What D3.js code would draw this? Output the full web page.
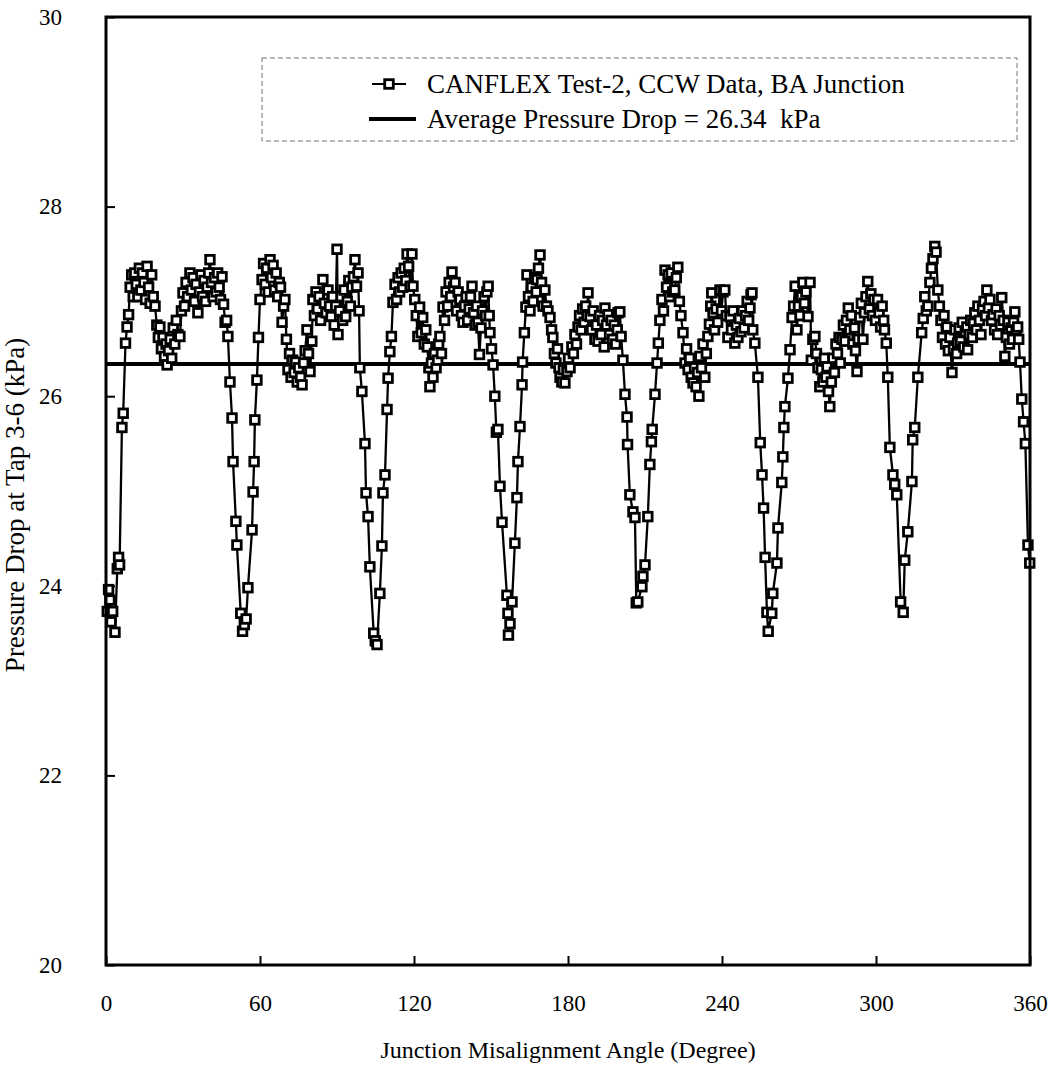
<!DOCTYPE html>
<html>
<head>
<meta charset="utf-8">
<script src="https://cdn.jsdelivr.net/npm/d3@7"></script>
<style>
  body { margin: 0; background: #fff; }
  text { font-family: "Liberation Serif", "Times New Roman", serif; fill: #000; }
</style>
</head>
<body>
<svg id="chart" width="1052" height="1076"></svg>
<script>
// values
var angles = [
  0.5, 1.0, 1.5, 2.0, 2.6, 3.5, 4.4, 4.9, 5.3, 6.2, 6.7, 7.6, 8.2, 8.8, 9.4, 10.0, 10.6, 11.2, 11.8, 12.4,
  13.0, 13.6, 14.2, 14.8, 15.4, 16.0, 16.6, 17.2, 17.8, 18.4, 19.1, 19.8, 20.4, 21.0, 21.6, 22.2, 22.8, 23.4, 23.8, 24.4,
  25.0, 25.6, 26.2, 26.8, 27.4, 28.0, 28.8, 29.4, 30.0, 30.6, 31.2, 31.8, 32.7, 33.3, 33.9, 34.5, 35.1, 35.8, 36.4, 37.0,
  37.6, 38.2, 38.8, 39.4, 40.0, 40.5, 41.1, 41.7, 42.3, 42.9, 43.5, 44.1, 44.6, 45.2, 45.8, 46.4, 47.0, 47.5, 48.3, 49.1,
  49.5, 50.6, 51.0, 52.5, 53.2, 53.9, 54.6, 55.3, 56.9, 57.3, 57.7, 58.0, 58.8, 59.4, 60.0, 60.8, 61.4, 62.0, 62.6, 63.2,
  63.9, 64.5, 65.1, 65.7, 66.3, 66.9, 67.5, 68.0, 68.6, 69.2, 69.7, 70.3, 70.9, 71.5, 72.1, 72.7, 73.3, 73.9, 74.5, 75.1,
  75.8, 76.4, 77.0, 77.6, 78.3, 78.9, 79.5, 80.2, 80.6, 81.2, 81.8, 82.4, 83.0, 83.6, 84.5, 85.1, 85.8, 86.5, 87.1, 87.7,
  88.3, 88.9, 89.5, 90.0, 90.4, 91.0, 91.6, 92.2, 92.8, 93.4, 94.0, 94.6, 95.2, 95.8, 96.4, 97.0, 97.6, 98.2, 98.6, 98.9,
  99.7, 100.9, 101.3, 102.1, 102.8, 104.3, 104.9, 105.6, 106.7, 107.5, 107.9, 108.7, 109.5, 109.9, 110.6, 111.2, 111.8, 112.6, 113.2, 113.8,
  114.4, 115.0, 115.6, 116.2, 116.8, 117.3, 117.9, 118.5, 119.2, 119.6, 120.3, 120.9, 121.5, 122.2, 122.8, 123.4, 124.0, 124.6, 125.2, 125.8,
  126.2, 126.8, 127.4, 128.0, 128.6, 129.2, 129.6, 130.1, 130.7, 131.3, 131.9, 132.5, 133.1, 133.7, 134.3, 134.8, 135.4, 136.0, 136.6, 137.2,
  137.9, 138.5, 139.1, 139.7, 140.3, 140.9, 141.5, 142.0, 142.6, 143.2, 143.8, 144.4, 144.9, 145.5, 146.1, 146.7, 147.3, 147.9, 148.4, 148.9,
  149.3, 149.6, 150.2, 150.8, 151.5, 152.1, 152.7, 153.5, 154.3, 156.2, 156.6, 156.8, 157.4, 158.2, 159.3, 160.1, 160.5, 161.3, 162.1, 162.3,
  163.0, 163.6, 164.0, 164.6, 165.2, 165.8, 166.4, 167.0, 167.6, 167.9, 168.5, 169.1, 169.7, 170.3, 171.0, 171.6, 172.2, 173.0, 173.6, 174.1,
  174.7, 175.3, 175.9, 176.5, 176.9, 177.6, 178.2, 178.8, 179.6, 180.2, 180.8, 181.5, 182.1, 182.7, 183.3, 183.9, 184.5, 185.1, 185.7, 186.3,
  186.9, 187.4, 187.8, 188.6, 189.2, 189.8, 190.5, 191.1, 191.7, 192.3, 192.9, 193.5, 194.1, 194.4, 195.0, 195.6, 196.2, 196.8, 197.4, 198.0,
  198.6, 199.2, 199.5, 200.2, 200.7, 201.4, 202.2, 203.0, 203.2, 204.1, 205.3, 206.1, 206.6, 207.2, 208.8, 209.2, 210.0, 211.1, 211.9, 212.5,
  212.8, 213.9, 214.7, 215.2, 215.8, 216.6, 217.2, 217.8, 218.4, 219.0, 219.6, 220.2, 220.8, 221.6, 222.2, 222.8, 223.4, 224.0, 224.8, 225.6,
  226.2, 226.8, 227.4, 228.0, 228.7, 229.3, 229.9, 230.5, 231.0, 231.4, 232.0, 232.6, 233.3, 233.9, 234.5, 235.1, 235.6, 236.0, 236.5, 237.1,
  237.7, 238.3, 239.2, 239.8, 240.4, 241.1, 241.7, 242.3, 243.1, 243.7, 244.3, 245.0, 245.6, 246.2, 246.8, 247.4, 248.0, 248.6, 249.2, 249.8,
  250.4, 250.9, 251.3, 251.7, 252.0, 252.8, 254.0, 254.9, 255.6, 256.2, 256.8, 257.5, 258.0, 259.4, 259.8, 261.4, 261.8, 263.3, 263.7, 264.1,
  264.5, 265.7, 266.5, 267.3, 267.9, 268.5, 269.2, 269.8, 270.4, 271.0, 271.5, 272.1, 272.7, 273.5, 274.3, 274.8, 275.4, 276.2, 276.8, 277.4,
  278.1, 278.7, 279.3, 279.9, 280.5, 280.9, 281.5, 282.0, 282.6, 283.2, 283.8, 284.4, 285.0, 285.6, 286.1, 286.7, 287.3, 287.9, 288.5, 289.2,
  289.8, 290.4, 291.0, 291.6, 292.0, 292.6, 293.1, 293.7, 294.3, 294.9, 295.5, 296.1, 296.8, 297.4, 298.0, 298.6, 299.2, 299.8, 300.6, 301.2,
  301.8, 302.4, 303.0, 303.3, 304.0, 304.6, 305.4, 306.6, 307.3, 308.1, 309.6, 310.6, 311.2, 312.4, 314.0, 314.3, 315.1, 316.3, 317.8, 318.4,
  319.0, 319.6, 320.2, 321.0, 321.6, 322.2, 322.9, 323.4, 324.1, 324.7, 325.3, 325.9, 326.5, 327.1, 327.6, 328.2, 328.8, 329.6, 330.2, 330.8,
  331.4, 331.8, 332.4, 333.0, 333.6, 334.2, 334.8, 335.4, 335.7, 336.3, 336.9, 337.5, 338.0, 338.5, 339.1, 339.7, 340.3, 340.9, 341.5, 342.1,
  342.7, 343.2, 343.8, 344.4, 345.0, 345.6, 346.2, 346.8, 347.4, 348.0, 348.5, 349.0, 349.6, 350.2, 350.8, 351.4, 352.0, 352.6, 353.2, 353.6,
  354.1, 354.6, 355.2, 355.6, 356.1, 356.8, 357.5, 358.2, 359.2, 359.9
];
var pressures = [
  23.73, 23.96, 23.85, 23.62, 23.73, 23.51, 24.18, 24.30, 24.22, 25.67, 25.82, 26.56, 26.73, 26.86, 27.15, 27.28, 27.05, 27.30, 27.18, 27.05,
  27.35, 27.12, 27.30, 27.20, 27.02, 27.37, 27.15, 26.98, 27.28, 27.05, 26.95, 26.75, 26.62, 26.73, 26.50, 26.62, 26.42, 26.55, 26.33, 26.48,
  26.60, 26.40, 26.72, 26.55, 26.80, 26.65, 26.63, 26.90, 27.09, 26.95, 27.20, 27.05, 27.30, 27.12, 27.25, 27.00, 27.18, 26.88, 27.10, 27.28,
  27.05, 27.22, 27.00, 27.15, 27.30, 27.44, 27.20, 27.05, 27.25, 27.10, 27.30, 27.15, 27.02, 27.26, 26.97, 26.78, 26.80, 26.63, 26.15, 25.77,
  25.31, 24.68, 24.43, 23.71, 23.52, 23.59, 23.65, 23.98, 24.59, 24.99, 25.31, 25.75, 26.17, 26.62, 27.02, 27.23, 27.40, 27.18, 27.35, 27.10,
  27.44, 27.25, 27.38, 27.12, 27.30, 27.05, 27.20, 27.15, 26.78, 26.95, 27.02, 26.60, 26.28, 26.45, 26.20, 26.38, 26.25, 26.36, 26.15, 26.30,
  26.20, 26.12, 26.35, 26.48, 26.70, 26.45, 26.26, 26.58, 27.02, 26.85, 27.10, 26.92, 27.05, 26.80, 27.23, 26.98, 26.88, 27.12, 26.95, 26.84,
  27.05, 26.75, 26.95, 27.55, 26.65, 26.90, 27.05, 26.80, 27.12, 26.84, 27.00, 27.22, 26.95, 27.15, 27.26, 27.44, 27.16, 27.30, 26.90, 26.30,
  26.05, 25.50, 24.98, 24.73, 24.20, 23.50, 23.42, 23.38, 23.92, 24.42, 24.98, 25.17, 25.86, 26.19, 26.47, 26.63, 26.99, 27.18, 27.02, 27.25,
  27.10, 27.30, 27.15, 27.35, 27.22, 27.50, 27.37, 27.16, 27.50, 27.16, 27.02, 26.85, 26.63, 26.94, 26.67, 26.83, 26.55, 26.70, 26.52, 26.30,
  26.10, 26.35, 26.20, 26.45, 26.30, 26.38, 26.55, 26.63, 26.45, 26.94, 26.80, 27.10, 26.95, 27.20, 27.05, 27.31, 27.15, 27.20, 26.90, 27.10,
  27.02, 26.85, 26.78, 26.95, 27.05, 26.80, 26.92, 27.05, 27.16, 26.88, 26.75, 26.95, 26.78, 26.44, 26.72, 26.90, 27.05, 26.85, 27.10, 27.16,
  26.85, 26.67, 26.50, 26.33, 26.00, 25.62, 25.65, 25.05, 24.67, 23.90, 23.71, 23.48, 23.60, 23.83, 24.45, 24.93, 25.31, 25.68, 26.12, 26.36,
  26.67, 26.94, 27.28, 27.05, 26.90, 27.15, 27.00, 27.25, 27.10, 27.23, 27.35, 27.49, 27.20, 26.95, 27.12, 26.95, 26.90, 26.83, 26.70, 26.62,
  26.45, 26.35, 26.50, 26.30, 26.20, 26.15, 26.28, 26.14, 26.26, 26.40, 26.30, 26.52, 26.45, 26.65, 26.55, 26.73, 26.85, 26.70, 26.92, 26.78,
  26.95, 26.85, 27.09, 26.84, 26.70, 26.90, 26.60, 26.75, 26.58, 26.85, 26.65, 26.80, 26.52, 26.93, 26.75, 26.86, 26.65, 26.80, 26.60, 26.75,
  26.55, 26.70, 26.88, 26.89, 26.63, 26.38, 26.02, 25.78, 25.49, 24.96, 24.78, 24.72, 23.82, 23.83, 23.99, 24.10, 24.22, 24.73, 25.28, 25.52,
  25.65, 26.02, 26.35, 26.56, 26.80, 27.02, 26.90, 27.33, 27.15, 27.28, 27.05, 27.30, 27.10, 27.12, 27.25, 27.36, 27.00, 26.85, 26.67, 26.35,
  26.50, 26.28, 26.40, 26.20, 26.14, 26.30, 26.10, 26.25, 26.00, 26.42, 26.30, 26.55, 26.20, 26.45, 26.63, 26.76, 26.95, 27.09, 26.88, 26.70,
  26.92, 26.78, 27.12, 26.90, 27.10, 27.12, 26.85, 26.62, 26.84, 26.70, 26.90, 26.56, 26.75, 26.62, 26.82, 26.68, 26.90, 26.72, 26.85, 27.00,
  26.80, 26.93, 27.07, 27.09, 26.70, 26.56, 26.20, 25.51, 25.17, 24.82, 24.30, 23.72, 23.52, 23.71, 23.92, 24.24, 24.61, 25.09, 25.36, 25.67,
  25.89, 26.19, 26.49, 26.83, 26.95, 27.16, 26.70, 26.95, 26.85, 27.05, 27.20, 26.98, 27.10, 26.84, 27.20, 26.38, 26.60, 26.63, 26.45, 26.30,
  26.10, 26.28, 26.15, 26.40, 26.20, 26.31, 26.05, 25.89, 26.15, 26.40, 26.25, 26.55, 26.45, 26.62, 26.35, 26.60, 26.75, 26.58, 26.80, 26.93,
  26.70, 26.85, 26.55, 26.72, 26.48, 26.26, 26.60, 26.83, 26.98, 26.60, 26.88, 27.05, 27.21, 26.92, 27.08, 26.85, 27.02, 26.80, 27.02, 26.88,
  26.73, 26.95, 26.80, 26.70, 26.56, 26.20, 25.46, 25.17, 25.07, 24.96, 23.83, 23.72, 24.27, 24.57, 25.10, 25.54, 25.67, 26.20, 26.67, 26.82,
  27.05, 26.90, 26.95, 27.20, 27.35, 27.45, 27.58, 27.52, 27.12, 26.95, 26.80, 26.62, 26.85, 26.55, 26.73, 26.48, 26.62, 26.25, 26.50, 26.70,
  26.45, 26.56, 26.72, 26.58, 26.78, 26.52, 26.68, 26.73, 26.49, 26.65, 26.80, 26.62, 26.77, 26.88, 26.70, 26.95, 26.80, 26.65, 26.92, 27.00,
  26.85, 27.12, 26.93, 27.02, 26.80, 26.86, 26.70, 26.92, 26.65, 26.85, 26.75, 27.04, 26.80, 26.42, 26.62, 26.78, 26.55, 26.72, 26.60, 26.78,
  26.89, 26.70, 26.73, 26.60, 26.36, 25.97, 25.73, 25.50, 24.43, 24.24
];
var avgPressure = 26.34;
var xTicks = [0, 60, 120, 180, 240, 300, 360];
var yTicks = [20, 22, 24, 26, 28, 30];
var legendLabels = ["CANFLEX Test-2, CCW Data, BA Junction", "Average Pressure Drop = 26.34  kPa"];

var svg = d3.select("#chart");
var plotLeft = 106, plotRight = 1030, plotTop = 17, plotBottom = 965;

var x = d3.scaleLinear().domain([0, 360]).range([plotLeft, plotRight]);
var y = d3.scaleLinear().domain([20, 30]).range([plotBottom, plotTop]);

var points = angles.map(function (a, i) { return [a, pressures[i]]; });

// axes, ticks pointing inward
var xAxis = svg.append("g")
    .attr("transform", "translate(0," + plotBottom + ")")
    .call(d3.axisBottom(x).tickValues(xTicks).tickSizeInner(-9).tickSizeOuter(0).tickPadding(30));
var yAxis = svg.append("g")
    .attr("transform", "translate(" + plotLeft + ",0)")
    .call(d3.axisLeft(y).tickValues(yTicks).tickSizeInner(-9).tickSizeOuter(0).tickPadding(44));
[xAxis, yAxis].forEach(function (g) {
    g.select(".domain").remove();
    g.selectAll(".tick line").attr("stroke", "#000").attr("stroke-width", 2);
    g.selectAll(".tick text").style("font-family", "Liberation Serif").style("font-size", "23px");
});

// average line
svg.append("line")
    .attr("x1", x(0)).attr("x2", x(360))
    .attr("y1", y(avgPressure)).attr("y2", y(avgPressure))
    .attr("stroke", "#000").attr("stroke-width", 4);

// data line + square markers
var lineGenerator = d3.line()
    .x(function (d) { return x(d[0]); })
    .y(function (d) { return y(d[1]); });

svg.append("path")
    .datum(points)
    .attr("d", lineGenerator)
    .attr("fill", "none")
    .attr("stroke", "#000")
    .attr("stroke-width", 2.3);

svg.append("g")
    .selectAll("rect")
    .data(points)
    .enter()
    .append("rect")
    .attr("x", function (d) { return x(d[0]) - 4.3; })
    .attr("y", function (d) { return y(d[1]) - 4.3; })
    .attr("width", 8.6)
    .attr("height", 8.6)
    .attr("fill", "#fff")
    .attr("stroke", "#000")
    .attr("stroke-width", 2.8);

// plot frame
svg.append("rect")
    .attr("x", plotLeft).attr("y", plotTop)
    .attr("width", plotRight - plotLeft).attr("height", plotBottom - plotTop)
    .attr("fill", "none").attr("stroke", "#000").attr("stroke-width", 3);

// axis titles
svg.append("text")
    .attr("x", (plotLeft + plotRight) / 2).attr("y", 1058)
    .attr("text-anchor", "middle")
    .style("font-size", "24px")
    .text("Junction Misalignment Angle (Degree)");
svg.append("text")
    .attr("transform", "translate(24,505) rotate(-90)")
    .attr("text-anchor", "middle")
    .style("font-size", "27px")
    .text("Pressure Drop at Tap 3-6 (kPa)");

// legend
var legend = svg.append("g");
legend.append("rect")
    .attr("x", 262).attr("y", 58).attr("width", 755).attr("height", 83)
    .attr("fill", "#fff").attr("stroke", "#777").attr("stroke-width", 1)
    .attr("stroke-dasharray", "5,3");
legend.append("line")
    .attr("x1", 372).attr("x2", 406).attr("y1", 84).attr("y2", 84)
    .attr("stroke", "#000").attr("stroke-width", 2);
legend.append("rect")
    .attr("x", 384.7).attr("y", 79.7).attr("width", 8.6).attr("height", 8.6)
    .attr("fill", "#fff").attr("stroke", "#000").attr("stroke-width", 2.8);
legend.append("line")
    .attr("x1", 369).attr("x2", 416).attr("y1", 119).attr("y2", 119)
    .attr("stroke", "#000").attr("stroke-width", 4);
legend.selectAll("text.lab")
    .data(legendLabels)
    .enter()
    .append("text")
    .attr("class", "lab")
    .attr("x", 427)
    .attr("y", function (d, i) { return 93 + i * 35; })
    .style("font-size", "27px")
    .style("white-space", "pre")
    .text(function (d) { return d; });
</script>
</body>
</html>
